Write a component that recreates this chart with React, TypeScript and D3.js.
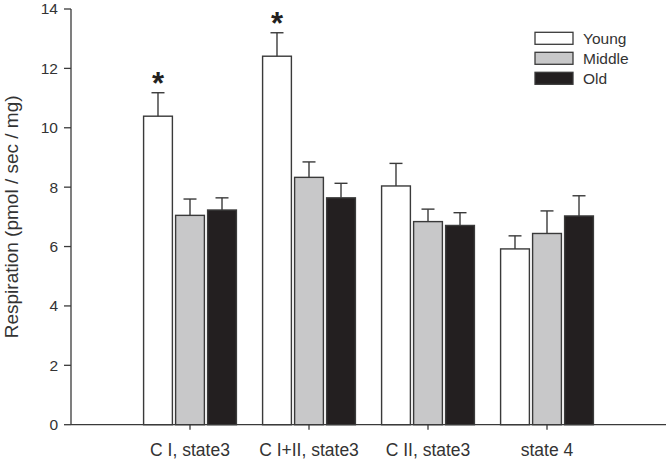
import React from "react";
import * as d3 from "d3";

const categories = ["C I, state3", "C I+II, state3", "C II, state3", "state 4"];
const series = ["Young", "Middle", "Old"];
const means = [
  [10.39, 7.05, 7.23],
  [12.41, 8.33, 7.64],
  [8.04, 6.84, 6.71],
  [5.92, 6.44, 7.03],
];
const errTops = [
  [11.18, 7.6, 7.64],
  [13.2, 8.85, 8.13],
  [8.8, 7.26, 7.14],
  [6.36, 7.2, 7.71],
];
const significant = [
  [true, false, false],
  [true, false, false],
  [false, false, false],
  [false, false, false],
];
const yTicks = [0, 2, 4, 6, 8, 10, 12, 14];
const fills = ["#ffffff", "#c8c8c9", "#231f20"];

const W = 667;
const H = 464;
const left = 71;
const right = 666;
const top = 9;
const bottom = 424.7;
const ink = "#3a3a3a";
const font = "'Liberation Sans', Arial, sans-serif";

export default function App() {
  const y = d3.scaleLinear().domain([0, 14]).range([bottom, top]);
  const x = d3
    .scaleBand<string>()
    .domain(categories)
    .range([left, right])
    .paddingInner(0.22)
    .paddingOuter(0.61);
  const xs = d3
    .scaleBand<string>()
    .domain(series)
    .range([0, x.bandwidth()])
    .paddingInner(0.1);
  const bw = xs.bandwidth();

  return (
    <svg
      width={W}
      height={H}
      style={{ position: "absolute", left: 0, top: 0, background: "#fff" }}
      fontFamily={font}
    >
      <rect width={W} height={H} fill="#fff" />
      {categories.map((c, ci) =>
        series.map((s, si) => {
          const bx = (x(c) as number) + (xs(s) as number);
          const v = means[ci][si];
          const e = errTops[ci][si];
          const cx = bx + bw / 2;
          return (
            <g key={c + s}>
              <rect
                x={bx}
                y={y(v)}
                width={bw}
                height={y(0) - y(v)}
                fill={fills[si]}
                stroke={ink}
                strokeWidth={1.4}
              />
              <line x1={cx} x2={cx} y1={y(v)} y2={y(e)} stroke={ink} strokeWidth={1.4} />
              <line x1={cx - 6.5} x2={cx + 6.5} y1={y(e)} y2={y(e)} stroke={ink} strokeWidth={1.4} />
              {significant[ci][si] && (
                <text
                  x={cx}
                  y={y(e) + 1}
                  textAnchor="middle"
                  fontSize={31}
                  fontWeight="bold"
                  fill="#231f20"
                >
                  *
                </text>
              )}
            </g>
          );
        })
      )}
      <line x1={left} x2={left} y1={top} y2={bottom} stroke={ink} strokeWidth={1.3} />
      {yTicks.map((t) => (
        <g key={t}>
          <line x1={left - 7} x2={left} y1={y(t)} y2={y(t)} stroke={ink} strokeWidth={1.3} />
          <text
            x={left - 13}
            y={y(t)}
            dy="0.35em"
            textAnchor="end"
            fontSize={15.5}
            fill="#333"
          >
            {t}
          </text>
        </g>
      ))}
      <line x1={left} x2={right} y1={bottom} y2={bottom} stroke={ink} strokeWidth={1.3} />
      {categories.map((c) => {
        const cx = (x(c) as number) + x.bandwidth() / 2;
        return (
          <g key={c}>
            <line x1={cx} x2={cx} y1={bottom} y2={bottom + 5} stroke={ink} strokeWidth={1.3} />
            <text x={cx} y={456} textAnchor="middle" fontSize={17.5} fill="#333">
              {c}
            </text>
          </g>
        );
      })}
      <text
        transform={`translate(18, ${(top + bottom) / 2}) rotate(-90)`}
        textAnchor="middle"
        fontSize={19}
        fill="#333"
      >
        Respiration (pmol / sec / mg)
      </text>
      {series.map((s, i) => (
        <g key={s} transform={`translate(535, ${32.3 + i * 20})`}>
          <rect x={0} y={0} width={38} height={12} fill={fills[i]} stroke={ink} strokeWidth={1.3} />
          <text x={48} y={6} dy="0.36em" fontSize={15.5} fill="#333">
            {s}
          </text>
        </g>
      ))}
    </svg>
  );
}
